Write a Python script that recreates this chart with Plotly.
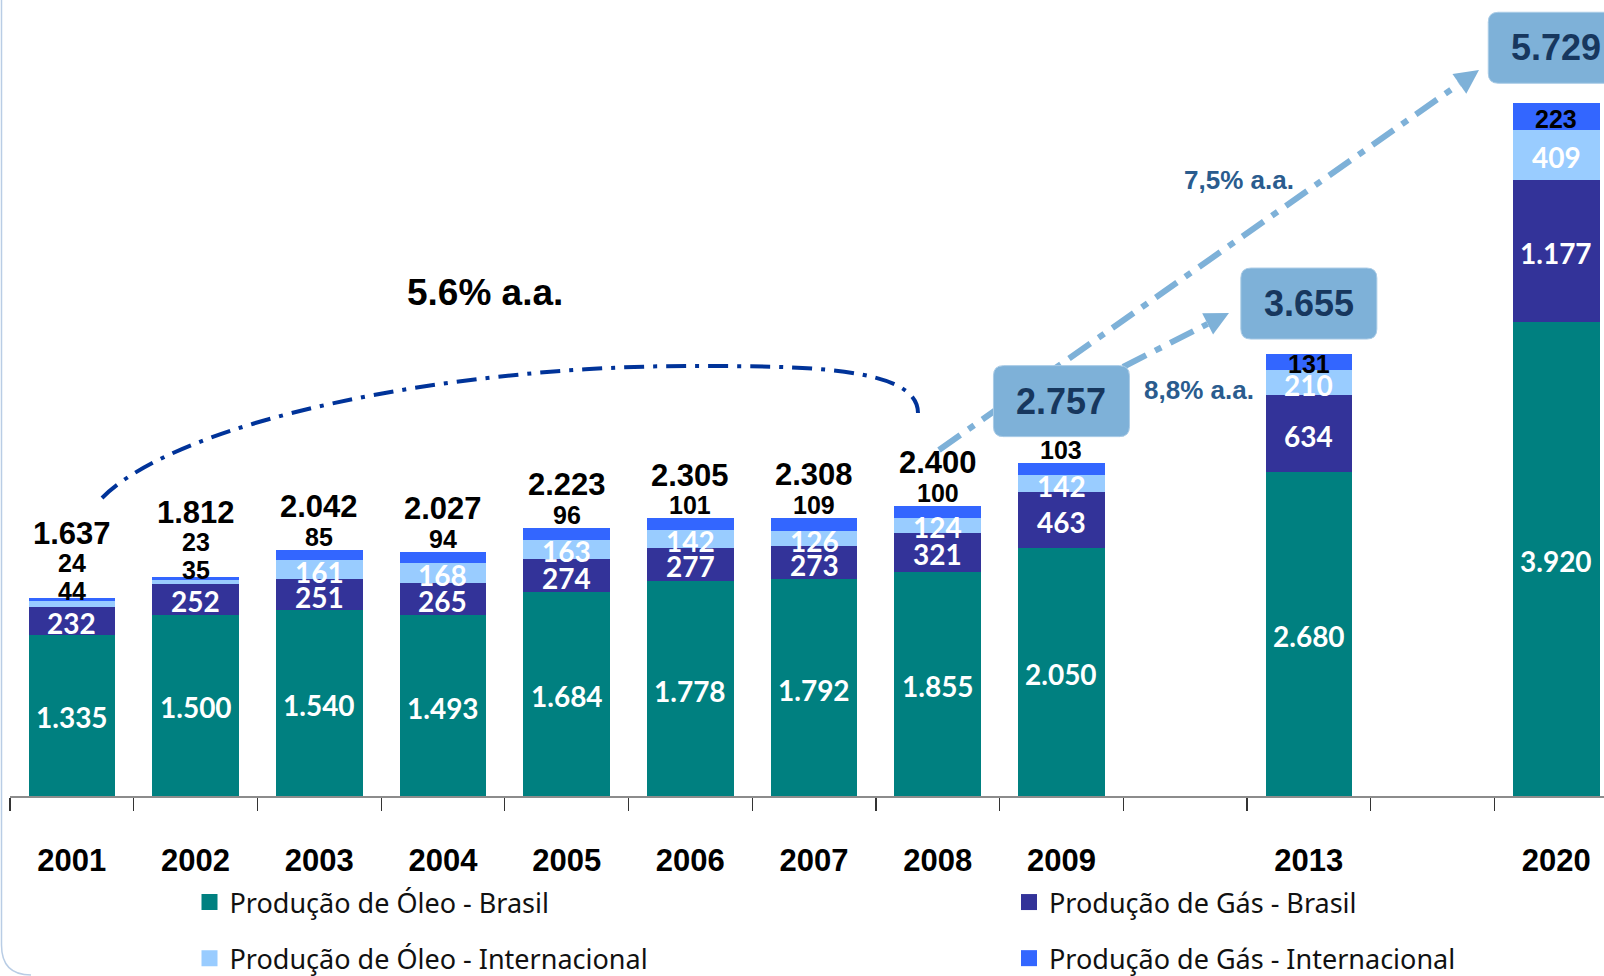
import math
import plotly.graph_objects as go

# ---------------- data ----------------
slots = ["2001", "2002", "2003", "2004", "2005", "2006", "2007", "2008", "2009", " ", "2013", "  ", "2020"]
years = ["2001", "2002", "2003", "2004", "2005", "2006", "2007", "2008", "2009", "2013", "2020"]
oleo_brasil = [1335, 1500, 1540, 1493, 1684, 1778, 1792, 1855, 2050, 2680, 3920]
gas_brasil = [232, 252, 251, 265, 274, 277, 273, 321, 463, 634, 1177]
oleo_internacional = [44, 35, 161, 168, 163, 142, 126, 124, 142, 210, 409]
gas_internacional = [24, 23, 85, 94, 96, 101, 109, 100, 103, 131, 223]
totals = [1637, 1812, 2042, 2027, 2223, 2305, 2308, 2400, 2757, 3655, 5729]
boxed_years = ["2009", "2013", "2020"]
series_names = ["Produção de Óleo - Brasil", "Produção de Gás - Brasil",
                "Produção de Óleo - Internacional", "Produção de Gás - Internacional"]
growth_labels = ["5.6% a.a.", "8,8% a.a.", "7,5% a.a."]

# ---------------- style ----------------
colors = ["#008080", "#333399", "#99CCFF", "#3366FF"]
BOX_COLOR = "#7EB1D8"
ARROW_COLOR = "#7EB1D8"
ARC_COLOR = "#003399"
GROWTH_TEXT = "#2A5C8E"
BOX_TEXT = "#17375E"
BOX_GAP = {"2009": 26, "2013": 15, "2020": 20}   # px between bar top and box

W, H = 1604, 976
ML, MB = 10, 180
PW, PH = W - ML, H - MB
SLOT_PX = 123.7
YMAX = 6583

ARIAL = "Liberation Sans, Arial, sans-serif"
CALIBRI = "Lato, Carlito, Calibri, sans-serif"


def fmt(v):
    return f"{v:,}".replace(",", ".")


def px(X, Y):
    """absolute pixel -> paper coordinates"""
    return (X - ML) / PW, (PH - Y) / PH


fig = go.Figure()

series = [oleo_brasil, gas_brasil, oleo_internacional, gas_internacional]
for name, vals, col in zip(series_names, series, colors):
    m = dict(zip(years, vals))
    fig.add_trace(go.Bar(
        x=slots, y=[m.get(s) for s in slots], name=name,
        marker=dict(color=col, line=dict(width=0)),
        showlegend=False, hoverinfo="skip",
    ))

# legend entries (two columns)
for idx, (name, col) in enumerate(zip(series_names, colors)):
    fig.add_trace(go.Scatter(
        x=[None], y=[None], mode="markers", name=name,
        marker=dict(symbol="square", size=16, color=col),
        legend="legend" if idx in (0, 2) else "legend2",
        legendgroup=name, hoverinfo="skip",
    ))

annotations = []
shapes = []
box_shapes = []

# segment / total labels
for i, yr in enumerate(years):
    xi = slots.index(yr)
    base = 0
    above = []
    for s, vals in enumerate(series):
        v = vals[i]
        if s < 2 or v >= 120:
            annotations.append(dict(
                x=xi, y=base + v / 2, text=fmt(v), showarrow=False, yshift=-2,
                xanchor="center", yanchor="middle",
                font=dict(family=CALIBRI if s < 3 else ARIAL, size=28 if s < 3 else 25,
                          color="white" if s < 3 else "black", weight=700),
            ))
        else:
            above.append(v)
        base += v
    n = len(above)
    first = 13 - 6 * (n - 1)
    for k, v in enumerate(above):
        annotations.append(dict(
            x=xi, y=base, text=fmt(v), showarrow=False, yshift=first + 28 * k,
            xanchor="center", yanchor="middle",
            font=dict(family=ARIAL, size=25, color="black", weight=700),
        ))
    if yr in boxed_years:
        hw, r = 68, 10
        b0 = BOX_GAP[yr]
        b1 = b0 + 71
        path = (f"M {-hw + r},{b0} L {hw - r},{b0} Q {hw},{b0} {hw},{b0 + r} "
                f"L {hw},{b1 - r} Q {hw},{b1} {hw - r},{b1} L {-hw + r},{b1} "
                f"Q {-hw},{b1} {-hw},{b1 - r} L {-hw},{b0 + r} Q {-hw},{b0} {-hw + r},{b0} Z")
        box_shapes.append(dict(type="path", xref="x", yref="y", xsizemode="pixel", ysizemode="pixel",
                               xanchor=xi, yanchor=totals[i], path=path,
                               fillcolor=BOX_COLOR, line=dict(color="#A9CBE6", width=1), layer="above"))
        annotations.append(dict(
            x=xi, y=totals[i], text=fmt(totals[i]), showarrow=False, yshift=(b0 + b1) / 2,
            xanchor="center", yanchor="middle",
            font=dict(family=ARIAL, size=36, color=BOX_TEXT, weight=700),
        ))
    else:
        annotations.append(dict(
            x=xi, y=base, text=fmt(totals[i]), showarrow=False,
            yshift=first + 28 * (n - 1) + 30, xanchor="center", yanchor="middle",
            font=dict(family=ARIAL, size=31, color="black", weight=700),
        ))

# 5.6% arc
pts = [(102, 498), (180, 420), (450, 366), (691, 366), (800, 366), (918, 366), (918, 413)]
pp = [px(*p) for p in pts]
arc_path = (f"M {pp[0][0]},{pp[0][1]} C {pp[1][0]},{pp[1][1]} {pp[2][0]},{pp[2][1]} {pp[3][0]},{pp[3][1]} "
            f"C {pp[4][0]},{pp[4][1]} {pp[5][0]},{pp[5][1]} {pp[6][0]},{pp[6][1]}")
shapes.append(dict(type="path", xref="paper", yref="paper", path=arc_path,
                   line=dict(color=ARC_COLOR, width=4, dash="20px,9px,4px,9px"), layer="above"))


def arrow(x0, y0, x1, y1, width=6, dash="26px,10px,7px,10px"):
    dx, dy = x1 - x0, y1 - y0
    L = math.hypot(dx, dy)
    ux, uy = dx / L, dy / L
    hl, hw = 24, 12
    bx, by = x1 - hl * ux, y1 - hl * uy
    nx, ny = -uy, ux
    p0 = px(x0, y0)
    p1 = px(bx, by)
    shapes.append(dict(type="line", xref="paper", yref="paper", x0=p0[0], y0=p0[1], x1=p1[0], y1=p1[1],
                       line=dict(color=ARROW_COLOR, width=width, dash=dash), layer="above"))
    a = px(x1, y1)
    c1 = px(bx + hw * nx, by + hw * ny)
    c2 = px(bx - hw * nx, by - hw * ny)
    shapes.append(dict(type="path", xref="paper", yref="paper",
                       path=f"M {a[0]},{a[1]} L {c1[0]},{c1[1]} L {c2[0]},{c2[1]} Z",
                       fillcolor=ARROW_COLOR, line=dict(width=0), layer="above"))


# growth arrows (boxes drawn afterwards, on top)
arrow(939, 450, 1479, 70)
arrow(1123, 367, 1229, 313)
shapes.extend(box_shapes)

# faint slide frame at left
f0 = px(1.5, 0)
f1 = px(1.5, 945)
f2 = px(1.5, 975)
f3 = px(31, 975)
shapes.append(dict(type="path", xref="paper", yref="paper",
                   path=f"M {f0[0]},{f0[1]} L {f1[0]},{f1[1]} Q {f2[0]},{f2[1]} {f3[0]},{f3[1]}",
                   line=dict(color="#B9CDE5", width=1.5)))

# growth labels
for text, (X, Y), size, color in zip(growth_labels, [(485, 292), (1199, 390), (1239, 180)],
                                     [37, 26, 26], ["black", GROWTH_TEXT, GROWTH_TEXT]):
    gx, gy = px(X, Y)
    annotations.append(dict(xref="paper", yref="paper", x=gx, y=gy, text=text, showarrow=False,
                            xanchor="center", yanchor="middle",
                            font=dict(family=ARIAL, size=size, color=color, weight=700)))

lx1, ly = px(189.5, 878)
lx2, _ = px(1009, 878)
legend_style = dict(orientation="v", yanchor="top", xanchor="left", y=ly,
                    font=dict(family="Noto Sans, sans-serif", size=27, color="#111111"),
                    bgcolor="rgba(0,0,0,0)", tracegroupgap=18, itemclick=False, itemdoubleclick=False)

fig.update_layout(
    width=W, height=H,
    margin=dict(l=ML, r=0, t=0, b=MB, autoexpand=False),
    paper_bgcolor="white", plot_bgcolor="white",
    barmode="stack", bargap=0.3,
    hovermode=False,
    xaxis=dict(type="category", categoryorder="array", categoryarray=slots,
               range=[-0.5, -0.5 + PW / SLOT_PX],
               showline=True, linecolor="#8C8C8C", linewidth=1.5,
               ticks="outside", ticklen=13, tickcolor="#333333", tickwidth=1.2,
               tickson="boundaries", ticklabelstandoff=36,
               tickfont=dict(family=ARIAL, size=31, color="black", weight=700),
               showgrid=False, zeroline=False, fixedrange=True),
    yaxis=dict(range=[0, YMAX], visible=False, showgrid=False, zeroline=False, fixedrange=True),
    legend=dict(x=lx1, **legend_style),
    legend2=dict(x=lx2, **legend_style),
    annotations=annotations,
    shapes=shapes,
)

fig.write_html("out.html", config={"displayModeBar": False, "staticPlot": True},
               post_script="document.body.style.margin='0px';document.body.style.overflow='hidden';")
